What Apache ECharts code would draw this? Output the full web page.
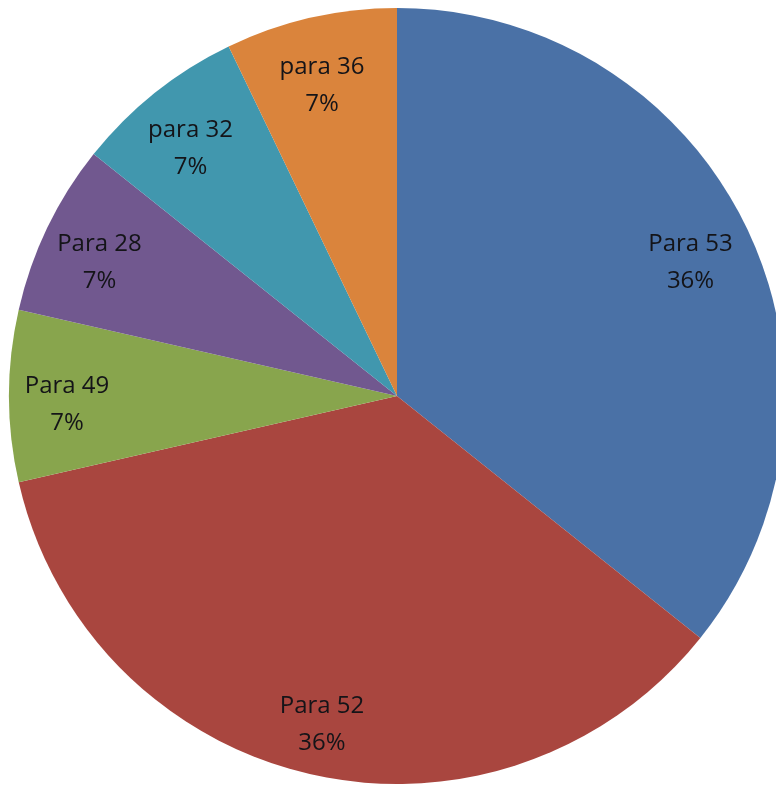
<!DOCTYPE html>
<html>
<head>
<meta charset="utf-8">
<script src="https://cdn.jsdelivr.net/npm/echarts@6/dist/echarts.min.js"></script>
<style>
html,body{margin:0;padding:0;background:#fff;}
#chart{width:776px;height:785px;}
</style>
</head>
<body>
<div id="chart"></div>
<script>
var categories = ['Para 53', 'Para 52', 'Para 49', 'Para 28', 'para 32', 'para 36'];
var values = [5, 5, 1, 1, 1, 1];
var colors = ['#4A71A6', '#A9463F', '#88A54D', '#71588F', '#4197AE', '#DA843C'];

var chart = echarts.init(document.getElementById('chart'));
var pieData = categories.map(function (c, i) {
  return { name: c, value: values[i], itemStyle: { color: colors[i] } };
});
var labelData = categories.map(function (c, i) {
  return { name: c, value: values[i] };
});
chart.setOption({
  backgroundColor: '#ffffff',
  animation: false,
  series: [
    {
      type: 'pie',
      center: [397, 396],
      radius: [0, 388],
      startAngle: 90,
      clockwise: true,
      silent: true,
      label: { show: false },
      labelLine: { show: false },
      itemStyle: { borderWidth: 0 },
      data: pieData
    },
    {
      type: 'pie',
      center: [397, 396],
      radius: [262, 388],
      startAngle: 90,
      clockwise: true,
      silent: true,
      percentPrecision: 0,
      itemStyle: { color: 'rgba(0,0,0,0)', borderWidth: 0 },
      label: {
        show: true,
        position: 'inside',
        formatter: '{b}\n{d}%',
        fontFamily: 'Open Sans',
        fontSize: 24,
        lineHeight: 37,
        color: '#141418',
        align: 'center',
        offset: [-2, 9]
      },
      labelLine: { show: false },
      data: labelData
    }
  ]
});
</script>
</body>
</html>
